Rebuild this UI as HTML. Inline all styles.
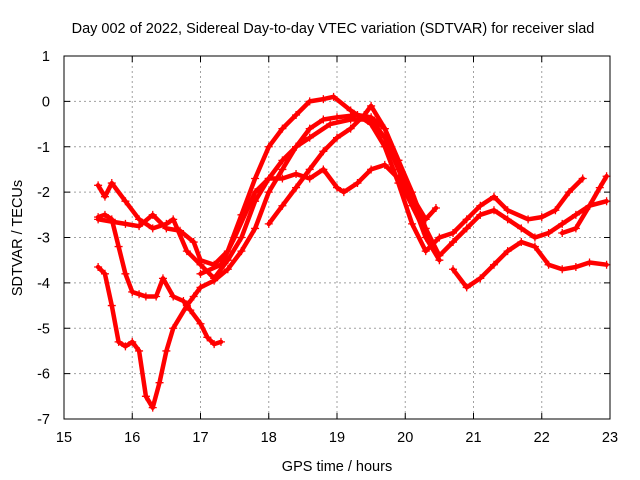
<!DOCTYPE html>
<html><head><meta charset="utf-8"><style>
body{margin:0;background:#fff}
svg{display:block;font-family:"Liberation Sans",sans-serif}
</style></head><body>
<svg id="chart" width="640" height="480" viewBox="0 0 640 480">
<text x="333" y="33" font-size="14.5" text-anchor="middle">Day 002 of 2022, Sidereal Day-to-day VTEC variation (SDTVAR) for receiver slad</text>
<text x="337" y="471" font-size="14.5" text-anchor="middle">GPS time / hours</text>
<text x="0" y="0" font-size="14.5" text-anchor="middle" transform="translate(22,238) rotate(-90)">SDTVAR / TECUs</text>
<g id="grid"></g>
<g id="ticks"></g>
<g id="series"></g>
<rect x="64" y="56" width="546" height="363" fill="none" stroke="#000" stroke-width="1"/>
</svg>
<script>
const xTicks=[15,16,17,18,19,20,21,22,23];
const yTicks=[1,0,-1,-2,-3,-4,-5,-6,-7];
const seriesA=[[15.5,-2.6],[15.7,-2.65],[15.9,-2.7],[16.1,-2.75],[16.3,-2.5],[16.5,-2.8],[16.7,-2.85],[16.9,-3.1],[17.0,-3.5],[17.2,-3.6],[17.4,-3.3],[17.6,-2.5],[17.8,-1.7],[18.0,-1.0],[18.2,-0.6],[18.4,-0.3],[18.6,0.0],[18.8,0.05],[18.95,0.1],[19.2,-0.2],[19.5,-0.5],[19.7,-1.0],[19.9,-1.8],[20.1,-2.7],[20.3,-3.3],[20.5,-3.0],[20.7,-2.9],[20.9,-2.6],[21.1,-2.3],[21.3,-2.1],[21.5,-2.4],[21.8,-2.6],[22.0,-2.55],[22.2,-2.4],[22.4,-2.0],[22.6,-1.7]];
const seriesB=[[15.5,-1.85],[15.6,-2.1],[15.7,-1.8],[15.9,-2.2],[16.1,-2.6],[16.3,-2.8],[16.5,-2.7],[16.6,-2.6],[16.8,-3.3],[17.0,-3.6],[17.2,-3.9],[17.4,-3.5],[17.6,-3.0],[17.8,-2.2],[18.0,-1.7],[18.2,-1.3],[18.4,-1.0],[18.6,-0.8],[18.9,-0.5],[19.2,-0.4],[19.5,-0.4],[19.7,-0.8],[19.9,-1.5],[20.1,-2.2],[20.3,-3.0],[20.5,-3.5]];
const seriesC=[[15.5,-2.55],[15.6,-2.5],[15.7,-2.6],[15.8,-3.2],[15.9,-3.8],[16.0,-4.2],[16.1,-4.25],[16.2,-4.3],[16.35,-4.3],[16.45,-3.9],[16.6,-4.3],[16.75,-4.4],[16.85,-4.6],[17.0,-4.9],[17.1,-5.2],[17.2,-5.35],[17.3,-5.3]];
const seriesD=[[15.5,-3.65],[15.6,-3.8],[15.7,-4.5],[15.8,-5.3],[15.9,-5.4],[16.0,-5.3],[16.1,-5.5],[16.2,-6.5],[16.3,-6.75],[16.4,-6.2],[16.5,-5.5],[16.6,-5.0],[16.8,-4.5],[16.9,-4.3],[17.0,-4.1],[17.2,-3.95],[17.4,-3.7],[17.6,-3.3],[17.8,-2.8],[18.0,-2.0],[18.2,-1.5],[18.4,-1.0],[18.6,-0.6],[18.8,-0.4],[19.0,-0.35],[19.3,-0.3],[19.5,-0.35],[19.7,-0.6],[19.9,-1.3],[20.1,-2.0],[20.3,-2.8],[20.5,-3.4],[20.7,-3.1],[20.9,-2.8],[21.1,-2.5],[21.3,-2.4],[21.5,-2.6],[21.7,-2.8],[21.9,-3.0],[22.1,-2.9],[22.3,-2.7],[22.5,-2.5],[22.7,-2.3],[22.95,-2.2]];
const seriesE=[[18.0,-2.7],[18.2,-2.3],[18.4,-1.9],[18.6,-1.5],[18.8,-1.1],[19.0,-0.8],[19.2,-0.6],[19.4,-0.3],[19.5,-0.1],[19.7,-0.6],[19.9,-1.3],[20.1,-2.1],[20.3,-2.6],[20.45,-2.35]];
const seriesF=[[17.0,-3.8],[17.3,-3.6],[17.5,-3.0],[17.8,-2.0],[18.0,-1.7],[18.2,-1.7],[18.4,-1.6],[18.6,-1.7],[18.8,-1.5],[19.0,-1.9],[19.1,-2.0],[19.3,-1.8],[19.5,-1.5],[19.7,-1.4],[19.9,-1.7],[20.1,-2.3],[20.3,-2.9]];
const seriesG=[[20.7,-3.7],[20.9,-4.1],[21.1,-3.9],[21.3,-3.6],[21.5,-3.3],[21.7,-3.1],[21.9,-3.2],[22.1,-3.6],[22.3,-3.7],[22.5,-3.65],[22.7,-3.55],[22.95,-3.6]];
const seriesH=[[22.3,-2.9],[22.5,-2.8],[22.7,-2.3],[22.85,-1.9],[22.95,-1.65]];
const allSeries=[seriesA,seriesB,seriesC,seriesD,seriesE,seriesF,seriesG,seriesH];
const names=['series-a','series-b','series-c','series-d','series-e','series-f','series-g','series-h'];
const NS='http://www.w3.org/2000/svg';
const X0=64,X1=610,Y0=56,Y1=419;
function sx(h){return X0+(h-15)/8*(X1-X0);}
function sy(v){return Y0+(1-v)/8*(Y1-Y0);}
function mk(tag,attrs,parent){const e=document.createElementNS(NS,tag);for(const k in attrs)e.setAttribute(k,attrs[k]);parent.appendChild(e);return e;}
const grid=document.getElementById('grid'),ticks=document.getElementById('ticks'),ser=document.getElementById('series');
xTicks.forEach(t=>{const x=sx(t);
 if(t>15&&t<23){const g=mk('line',{x1:x,x2:x,y1:Y0,y2:Y1,stroke:'#a0a0a0','stroke-dasharray':'2,3'},grid);}
 mk('line',{x1:x,x2:x,y1:Y1,y2:Y1-6,stroke:'#000'},ticks);mk('line',{x1:x,x2:x,y1:Y0,y2:Y0+6,stroke:'#000'},ticks);
 const l=mk('text',{x:x,y:442,'font-size':14.5,'text-anchor':'middle'},ticks);l.textContent=t;
 
 });
yTicks.forEach(t=>{const y=sy(t);
 if(t<1&&t>-7){const g=mk('line',{x1:X0,x2:X1,y1:y,y2:y,stroke:'#a0a0a0','stroke-dasharray':'2,3'},grid);}
 mk('line',{x1:X0,x2:X0+6,y1:y,y2:y,stroke:'#000'},ticks);mk('line',{x1:X1,x2:X1-6,y1:y,y2:y,stroke:'#000'},ticks);
 const l=mk('text',{x:50,y:y+5,'font-size':14.5,'text-anchor':'end'},ticks);l.textContent=t;
 
 });
allSeries.forEach((s,i)=>{
 const g=mk('g',{},ser);
 
 
 const pts=s.map(p=>sx(p[0]).toFixed(1)+','+sy(p[1]).toFixed(1)).join(' ');
 const pl=mk('polyline',{points:pts,fill:'none',stroke:'#ff0000','stroke-width':4.5,'stroke-linejoin':'round','stroke-linecap':'round'},g);
 
 
 s.forEach(p=>{const x=sx(p[0]),y=sy(p[1]);
  const m=mk('path',{d:`M${x-4},${y}H${x+4}M${x},${y-4}V${y+4}`,stroke:'#ff0000','stroke-width':1.3},g);
  
  });
});
</script>
</body></html>
